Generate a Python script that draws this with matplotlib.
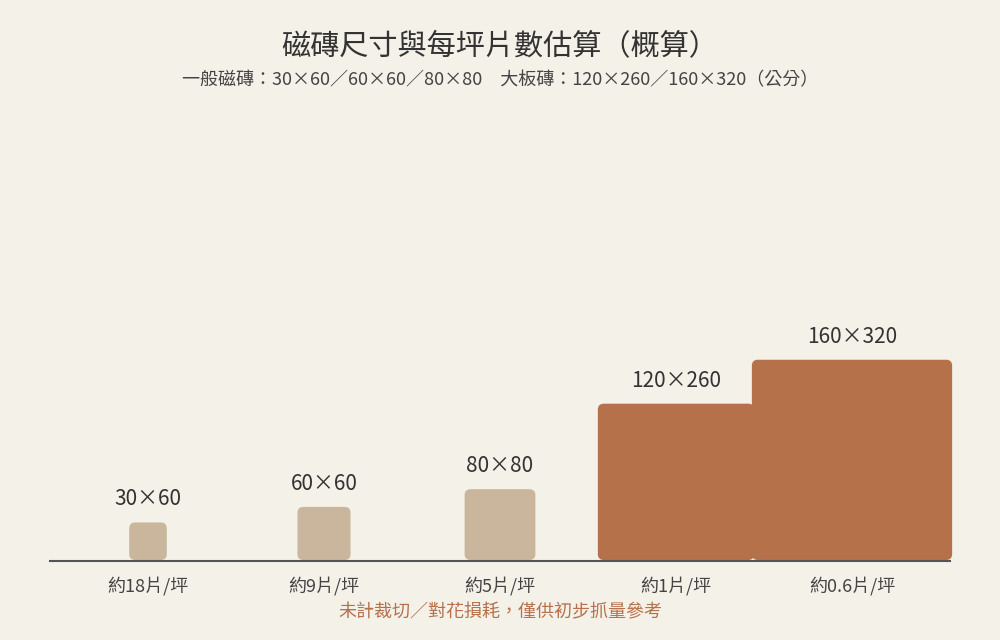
import numpy as np
import matplotlib
matplotlib.use("Agg")
import matplotlib.pyplot as plt
from matplotlib.patches import FancyBboxPatch

plt.rcParams['font.family'] = ['Noto Sans CJK TC', 'DejaVu Sans']

labels = ["30×60", "60×60", "80×80", "120×260", "160×320"]
widths = [30, 60, 80, 120, 160]
heights = [60, 60, 80, 260, 320]
counts = ["約18片/坪", "約9片/坪", "約5片/坪", "約1片/坪", "約0.6片/坪"]
large = [False, False, False, True, True]

bg = "#F4F1E8"
fig = plt.figure(figsize=(10, 6.4), dpi=100, facecolor=bg)
ax = fig.add_axes([0, 0, 1, 1])
ax.set_xlim(0, 1000); ax.set_ylim(640, 0); ax.axis("off")
ax.set_facecolor(bg)

scale = 0.885
base = 560
for i, (lab, w, h, c, lg) in enumerate(zip(labels, widths, heights, counts, large)):
    s = np.sqrt(w * h) * scale
    cx = 148 + 176 * i
    col = "#B5714A" if lg else "#C9B69C"
    r = 6
    ax.add_patch(FancyBboxPatch((cx - s/2 + r, base - s + r), s - 2*r, s - 2*r,
                                boxstyle=f"round,pad={r}", fc=col, ec="none", zorder=2))
    ax.text(cx, base - s - 12, lab, ha="center", va="bottom", fontsize=15, color="#333333")
    ax.text(cx, 586, c, ha="center", va="center", fontsize=13, color="#444444")

ax.plot([50, 950], [561, 561], color="#555555", lw=1.5, zorder=3)
ax.text(500, 46, "磁磚尺寸與每坪片數估算（概算）", ha="center", va="center", fontsize=21, color="#333333")
ax.text(500, 80, "一般磁磚：30×60／60×60／80×80　大板磚：120×260／160×320（公分）",
        ha="center", va="center", fontsize=13, color="#444444")
ax.text(500, 612, "未計裁切／對花損耗，僅供初步抓量參考", ha="center", va="center",
        fontsize=13, color="#B5714A")
fig.savefig("out.png", dpi=100, facecolor=bg)
